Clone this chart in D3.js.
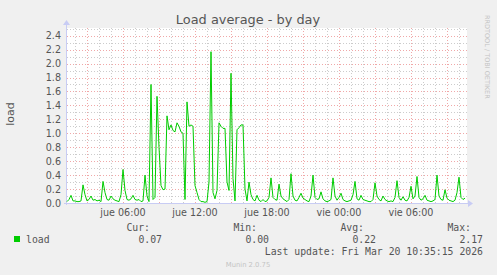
<!DOCTYPE html>
<html>
<head>
<meta charset="utf-8">
<script src="https://cdn.jsdelivr.net/npm/d3@7"></script>
<style>
  body { margin: 0; background: #f0f0f0; }
  svg { display: block; }
</style>
</head>
<body>
<script>
const width = 497;
const height = 275;

// samples every 10 minutes, starting Thu 01:20
const startHour = 1 + 20 / 60;
const stepHours = 10 / 60;
const loadValues = [
    0.02, 0.05, 0.11, 0.03, 0.03, 0.02, 0.02, 0.03, 0.26, 0.12,
    0.03, 0.05, 0.10, 0.04, 0.05, 0.03, 0.04, 0.02, 0.31, 0.15,
    0.05, 0.04, 0.10, 0.06, 0.04, 0.03, 0.02, 0.12, 0.48, 0.18,
    0.05, 0.04, 0.06, 0.11, 0.05, 0.04, 0.05, 0.02, 0.03, 0.40,
    0.10, 0.02, 1.70, 0.05, 0.08, 1.53, 0.80, 0.25, 0.19, 0.20,
    1.25, 1.05, 1.12, 1.04, 1.02, 1.15, 1.10, 1.02, 1.00, 0.05,
    1.45, 1.10, 1.12, 1.10, 0.25, 0.15, 0.05, 0.02, 0.02, 0.01,
    0.02, 0.30, 2.17, 0.15, 0.06, 0.18, 1.15, 1.10, 1.07, 1.07,
    0.30, 0.18, 1.86, 0.35, 0.03, 1.05, 1.08, 1.12, 1.12, 0.20,
    0.03, 0.30, 0.12, 0.05, 0.03, 0.11, 0.04, 0.02, 0.05, 0.02,
    0.03, 0.08, 0.36, 0.08, 0.05, 0.04, 0.27, 0.10, 0.06, 0.04,
    0.02, 0.05, 0.42, 0.10, 0.04, 0.03, 0.08, 0.14, 0.07, 0.05,
    0.03, 0.02, 0.10, 0.40, 0.08, 0.05, 0.06, 0.16, 0.06, 0.03,
    0.02, 0.03, 0.05, 0.36, 0.10, 0.04, 0.08, 0.14, 0.05, 0.03,
    0.02, 0.03, 0.04, 0.12, 0.31, 0.06, 0.04, 0.11, 0.05, 0.04,
    0.03, 0.02, 0.02, 0.05, 0.29, 0.10, 0.05, 0.03, 0.10, 0.05,
    0.03, 0.02, 0.03, 0.02, 0.08, 0.32, 0.08, 0.04, 0.09, 0.04,
    0.03, 0.08, 0.24, 0.06, 0.10, 0.38, 0.08, 0.04, 0.06, 0.11,
    0.04, 0.03, 0.02, 0.03, 0.05, 0.40, 0.10, 0.05, 0.04, 0.19,
    0.07, 0.04, 0.03, 0.02, 0.04, 0.15, 0.37, 0.08, 0.05, 0.07
];

const yTicks = [0.0, 0.2, 0.4, 0.6, 0.8, 1.0, 1.2, 1.4, 1.6, 1.8, 2.0, 2.2, 2.4];
const xTickHours = [6, 12, 18, 24, 30];
const xTickLabels = ["jue 06:00", "jue 12:00", "jue 18:00", "vie 00:00", "vie 06:00"];

const legendStats = [
    { label: "Cur:", value: "0.07" },
    { label: "Min:", value: "0.00" },
    { label: "Avg:", value: "0.22" },
    { label: "Max:", value: "2.17" }
];

const plot = { left: 67, right: 467, top: 28, bottom: 203 };
const lineColor = "#00cc00";
const mono = "'DejaVu Sans Mono', monospace";
const sans = "'DejaVu Sans', sans-serif";

const x = d3.scaleLinear()
    .domain([startHour, startHour + 400 / 12])
    .range([plot.left, plot.right]);
const y = d3.scaleLinear()
    .domain([0, 2.51])
    .range([plot.bottom, plot.top]);

const svg = d3.select("body").append("svg")
    .attr("width", width)
    .attr("height", height);

svg.append("rect").attr("width", width).attr("height", height).attr("fill", "#f0f0f0");
svg.append("rect")
    .attr("x", plot.left).attr("y", plot.top)
    .attr("width", plot.right - plot.left).attr("height", plot.bottom - plot.top)
    .attr("fill", "#ffffff");

// minor grid
const minorY = d3.range(1, 26).map(d => d / 10).filter(d => Math.round(d * 10) % 2 !== 0);
const minorX = d3.range(2, 35).filter(h => h % 3 !== 0 && x(h) > plot.left && x(h) < plot.right);
const majorX = d3.range(3, 35, 3).filter(h => x(h) < plot.right);

svg.append("g").selectAll("line").data(minorY).enter().append("line")
    .attr("x1", plot.left).attr("x2", plot.right)
    .attr("y1", d => Math.round(y(d)) + 0.5).attr("y2", d => Math.round(y(d)) + 0.5)
    .attr("stroke", "#cccccc").attr("stroke-dasharray", "1,2");
svg.append("g").selectAll("line").data(minorX).enter().append("line")
    .attr("x1", d => Math.round(x(d)) + 0.5).attr("x2", d => Math.round(x(d)) + 0.5)
    .attr("y1", plot.top).attr("y2", plot.bottom)
    .attr("stroke", "#cccccc").attr("stroke-dasharray", "1,2");

// major grid
svg.append("g").selectAll("line").data(yTicks.slice(1)).enter().append("line")
    .attr("x1", plot.left).attr("x2", plot.right)
    .attr("y1", d => Math.round(y(d)) + 0.5).attr("y2", d => Math.round(y(d)) + 0.5)
    .attr("stroke", "#f0a8a8").attr("stroke-dasharray", "1,2");
svg.append("g").selectAll("line").data(majorX).enter().append("line")
    .attr("x1", d => Math.round(x(d)) + 0.5).attr("x2", d => Math.round(x(d)) + 0.5)
    .attr("y1", plot.top).attr("y2", plot.bottom)
    .attr("stroke", "#f0a8a8").attr("stroke-dasharray", "1,2");

// axes lines + arrows
svg.append("line")
    .attr("x1", plot.left - 0.5).attr("x2", plot.left - 0.5)
    .attr("y1", plot.top - 4).attr("y2", plot.bottom + 2)
    .attr("stroke", "#c8ccf4");
svg.append("line")
    .attr("x1", plot.left - 3).attr("x2", plot.right + 2)
    .attr("y1", plot.bottom + 0.5).attr("y2", plot.bottom + 0.5)
    .attr("stroke", "#c8ccf4");
svg.append("path")
    .attr("d", `M${plot.left - 4},${plot.top - 3} L${plot.left - 0.5},${plot.top - 8} L${plot.left + 3},${plot.top - 3} Z`)
    .attr("fill", "#c8ccf4");
svg.append("path")
    .attr("d", `M${plot.right + 1},${plot.bottom - 3} L${plot.right + 6},${plot.bottom + 0.5} L${plot.right + 1},${plot.bottom + 4} Z`)
    .attr("fill", "#c8ccf4");

// data line
const line = d3.line()
    .x((d, i) => x(startHour + i * stepHours))
    .y(d => y(d));
svg.append("path")
    .datum(loadValues)
    .attr("d", line)
    .attr("fill", "none")
    .attr("stroke", lineColor)
    .attr("stroke-width", 1);

// y tick labels
svg.append("g").selectAll("text").data(yTicks).enter().append("text")
    .attr("x", 61).attr("y", d => y(d) + 3.5)
    .attr("text-anchor", "end")
    .style("font-family", sans).style("font-size", "9.6px").attr("fill", "#555")
    .text(d => d.toFixed(1));

// x tick labels
svg.append("g").selectAll("text").data(xTickHours).enter().append("text")
    .attr("x", d => x(d)).attr("y", 216)
    .attr("text-anchor", "middle")
    .style("font-family", sans).style("font-size", "9.6px").attr("fill", "#555")
    .text((d, i) => xTickLabels[i]);

// title
svg.append("text")
    .attr("x", 248).attr("y", 23.5)
    .attr("text-anchor", "middle")
    .style("font-family", sans).style("font-size", "12.9px").attr("fill", "#555")
    .text("Load average - by day");

// y axis label
svg.append("text")
    .attr("transform", "translate(14,114) rotate(-90)")
    .attr("text-anchor", "middle")
    .style("font-family", sans).style("font-size", "11px").attr("fill", "#555")
    .text("load");

// watermark
svg.append("text")
    .attr("transform", "translate(485,15) rotate(90)")
    .style("font-family", sans).style("font-size", "6.5px").attr("fill", "#c4c4c4")
    .text("RRDTOOL / TOBI OETIKER");

// legend
svg.append("rect")
    .attr("x", 14).attr("y", 236).attr("width", 6).attr("height", 6)
    .attr("fill", lineColor);
svg.append("text")
    .attr("x", 26).attr("y", 242.5)
    .style("font-family", mono).style("font-size", "9.8px").attr("fill", "#555")
    .text("load");

const statEnds = [162, 269, 376, 483];
legendStats.forEach((s, i) => {
    svg.append("text")
        .attr("x", statEnds[i] - 12).attr("y", 231)
        .attr("text-anchor", "end")
        .style("font-family", mono).style("font-size", "9.8px").attr("fill", "#555")
        .text(s.label);
    svg.append("text")
        .attr("x", statEnds[i]).attr("y", 242.5)
        .attr("text-anchor", "end")
        .style("font-family", mono).style("font-size", "9.8px").attr("fill", "#555")
        .text(s.value);
});

svg.append("text")
    .attr("x", 483).attr("y", 254.5)
    .attr("text-anchor", "end")
    .style("font-family", mono).style("font-size", "9.8px").attr("fill", "#555")
    .text("Last update: Fri Mar 20 10:35:15 2026");

svg.append("text")
    .attr("x", 248).attr("y", 267)
    .attr("text-anchor", "middle")
    .style("font-family", sans).style("font-size", "6.8px").attr("fill", "#c4c4c4")
    .text("Munin 2.0.75");
</script>
</body>
</html>
